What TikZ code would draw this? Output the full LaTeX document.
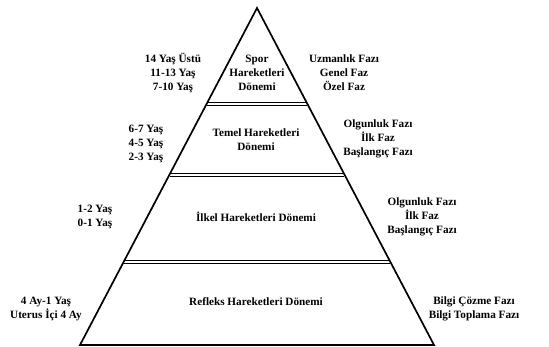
\documentclass[tikz,border=0pt]{standalone}
\usepackage{fontspec}
\setmainfont{Liberation Serif}
\begin{document}
\begin{tikzpicture}[x=1pt,y=-1pt,
  lbl/.style={font=\bfseries\fontsize{11.2}{14}\selectfont, align=center, inner sep=0pt},
  edge/.style={line width=1.7pt, line join=miter},
  divider/.style={line width=1.1pt}]
\useasboundingbox (0,0) rectangle (549,347);
% pyramid outline
\coordinate (apex) at (257,8);
\coordinate (bl) at (80,345);
\coordinate (br) at (434,345);
\draw[edge] (apex) -- (bl) -- (br) -- cycle;
% dividers (double lines)
\coordinate (d1l) at (207,104); \coordinate (d1r) at (307,104);
\coordinate (d2l) at (170,175); \coordinate (d2r) at (344,175);
\coordinate (d3l) at (124,262); \coordinate (d3r) at (390,262);
\foreach \a/\b in {d1l/d1r,d2l/d2r,d3l/d3r}{
  \draw[divider] ([yshift=1.1pt]\a) -- ([yshift=1.1pt]\b);
  \draw[divider] ([yshift=-1.1pt]\a) -- ([yshift=-1.1pt]\b);
}
% inside labels
\node[lbl] (spor) at (257,73) {Spor\\Hareketleri\\Dönemi};
\node[lbl] (temel) at (256,140) {Temel Hareketleri\\Dönemi};
\node[lbl] (ilkel) at (256,217) {İlkel Hareketleri Dönemi};
\node[lbl] (refleks) at (256,302) {Refleks Hareketleri Dönemi};
% left labels
\node[lbl] (l1) at (173,73) {14 Yaş Üstü\\11-13 Yaş\\7-10 Yaş};
\node[lbl] (l2) at (146,144) {6-7 Yaş\\4-5 Yaş\\2-3 Yaş};
\node[lbl] (l3) at (95,217) {1-2 Yaş\\0-1 Yaş};
\node[lbl] (l4) at (46,309) {4 Ay-1 Yaş\\Uterus İçi 4 Ay};
% right labels
\node[lbl] (r1) at (344,73) {Uzmanlık Fazı\\Genel Faz\\Özel Faz};
\node[lbl] (r2) at (378,139) {Olgunluk Fazı\\İlk Faz\\Başlangıç Fazı};
\node[lbl] (r3) at (422,217) {Olgunluk Fazı\\İlk Faz\\Başlangıç Fazı};
\node[lbl] (r4) at (474,309) {Bilgi Çözme Fazı\\Bilgi Toplama Fazı};
\end{tikzpicture}
\end{document}
